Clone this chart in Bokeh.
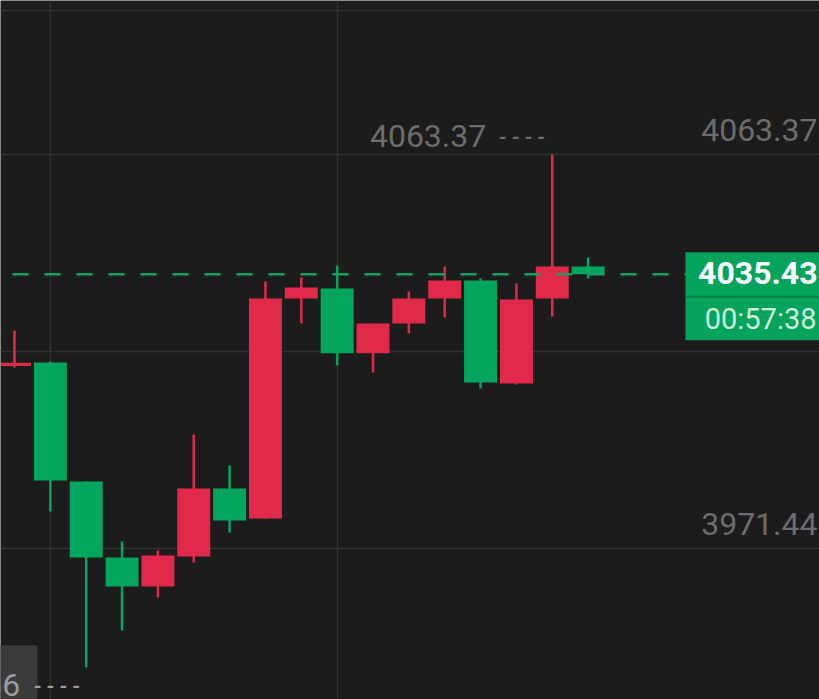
from bokeh.plotting import figure
from bokeh.models import Span, Grid, FixedTicker, Range1d
from bokeh.core.properties import value
from bokeh.embed import file_html
from bokeh.resources import INLINE

# ---------------- data ----------------
opens  = [4014.00, 4014.84, 3987.07, 3969.34, 3962.57, 3969.57, 3985.44, 3978.44, 4029.77,
          4032.10, 4017.00, 4023.94, 4029.77, 4033.97, 4009.94, 4029.77, 4037.24]
closes = [4014.80, 3987.31, 3969.34, 3962.57, 3969.81, 3985.44, 3977.97, 4029.77, 4032.34,
          4017.00, 4023.94, 4029.77, 4033.97, 4010.17, 4029.54, 4037.24, 4035.43]
highs  = [4022.31, 4015.00, 3987.07, 3973.07, 3970.97, 3998.04, 3990.81, 4033.74, 4034.67,
          4037.47, 4023.94, 4031.40, 4037.24, 4034.44, 4033.27, 4063.37, 4039.34]
lows   = [4013.67, 3980.07, 3943.66, 3952.31, 3960.01, 3968.17, 3975.17, 3978.44, 4023.94,
          4014.14, 4012.51, 4021.61, 4025.34, 4008.77, 4009.70, 4025.57, 4034.44]
y_ticks = [4063.37, 4017.405, 3971.44]
y_tick_labels = ["4063.37", "3971.44"]
y_label_ticks = [4063.37, 3971.44]
x_grid_ticks = [1, 9]
last_price = 4035.43
countdown = "00:57:38"

# ---------------- view / style ----------------
W, H = 819, 699
PX_PER_BAR = 35.85
FIRST_BAR_PX = 14
PX_PER_UNIT = 4.2859
TOP_TICK_PX = 154
X_START = -FIRST_BAR_PX / PX_PER_BAR
X_END = X_START + W / PX_PER_BAR
Y_TOP = y_ticks[0] + TOP_TICK_PX / PX_PER_UNIT
Y_BOTTOM = Y_TOP - H / PX_PER_UNIT

BG = "#1c1c1c"
GRID = "#303030"
RED = "#e12a4a"
GREEN = "#04a55c"
LABEL = "#6c6c6c"
FONT = "Roboto"

p = figure(width=W, height=H, x_range=Range1d(X_START, X_END), y_range=Range1d(Y_BOTTOM, Y_TOP),
           x_axis_type=None, y_axis_type=None, toolbar_location=None, output_backend="svg",
           background_fill_color=BG, border_fill_color=BG, min_border=0, outline_line_color=None)

p.add_layout(Grid(dimension=1, ticker=FixedTicker(ticks=y_ticks), grid_line_color=GRID, grid_line_width=1.5))
p.add_layout(Grid(dimension=0, ticker=FixedTicker(ticks=x_grid_ticks), grid_line_color=GRID, grid_line_width=1.5))
p.add_layout(Span(location=Y_TOP - 10 / PX_PER_UNIT, dimension="width", line_color=GRID, line_width=1.5,
                  level="underlay"))

idx = list(range(len(opens)))
colors = [RED if c >= o else GREEN for o, c in zip(opens, closes)]
tops = [max(o, c) for o, c in zip(opens, closes)]
bots = [min(o, c) for o, c in zip(opens, closes)]

p.segment(x0=idx, y0=lows, x1=idx, y1=highs, line_color=colors, line_width=2.5)
p.vbar(x=idx, width=0.92, top=tops, bottom=bots, fill_color=colors, line_color=None)

# axis-like labels at right
p.text(x=[X_END] * len(y_label_ticks), y=y_label_ticks, text=y_tick_labels, text_font=value(FONT),
       text_font_size="32px", text_color=LABEL, text_align="right", text_baseline="middle",
       x_offset=-2, y_offset=-25)

# max / min markers
i_max = highs.index(max(highs))
i_min = lows.index(min(lows))
p.text(x=[i_max], y=[highs[i_max]], text=[f"{highs[i_max]:.2f}"], text_font=value(FONT),
       text_font_size="32px", text_color=LABEL, text_align="right", text_baseline="middle",
       x_offset=-66, y_offset=-19)
p.text(x=[i_max], y=[highs[i_max]], text=["- - - -"], text_font=value(FONT),
       text_font_size="20px", text_font_style="bold", text_color=LABEL, text_align="right",
       text_baseline="middle", x_offset=-7, y_offset=-18)

# bottom-left gray button (partially off-screen)
p.rect(x=[X_START], y=[Y_BOTTOM + 27 / PX_PER_UNIT], width=74, height=54, width_units="screen",
       height_units="screen", fill_color="#3b3b3b", line_color=None)
p.text(x=[i_min], y=[lows[i_min]], text=[f"{lows[i_min]:.2f}"], text_font=value(FONT),
       text_font_size="32px", text_color="#9c9c9c", text_align="right", text_baseline="middle",
       x_offset=-66, y_offset=17)
p.text(x=[i_min], y=[lows[i_min]], text=["- - - -"], text_font=value(FONT),
       text_font_size="20px", text_font_style="bold", text_color="#9c9c9c", text_align="right",
       text_baseline="middle", x_offset=-6, y_offset=18)

# last price line
p.add_layout(Span(location=last_price, dimension="width", line_color="#16a05e", line_width=2.5,
                  line_dash="16 16", line_dash_offset=20))

# price box
box = p.rect(x=[X_END], y=[last_price - 22 / PX_PER_UNIT], width=268, height=88, width_units="screen",
             height_units="screen", fill_color="#05a35c", line_color=None)
div = p.segment(x0=[X_END - 134 / PX_PER_BAR], x1=[X_END], y0=[last_price - 22.5 / PX_PER_UNIT],
                y1=[last_price - 22.5 / PX_PER_UNIT], line_color="#0a7c47", line_width=2)
t1 = p.text(x=[X_END], y=[last_price], text=[f"{last_price:.2f}"], text_font=value(FONT),
            text_font_size="32px", text_font_style="bold", text_color="#ffffff", text_align="right",
            text_baseline="middle", x_offset=-2, y_offset=-1)
t2 = p.text(x=[X_END], y=[last_price], text=[countdown], text_font=value(FONT),
            text_font_size="29px", text_color="#cdf3dc", text_align="right",
            text_baseline="middle", x_offset=-3, y_offset=45)
for r in (box, div, t1, t2):
    r.level = "overlay"

open("out.html", "w").write(file_html(p, INLINE))
